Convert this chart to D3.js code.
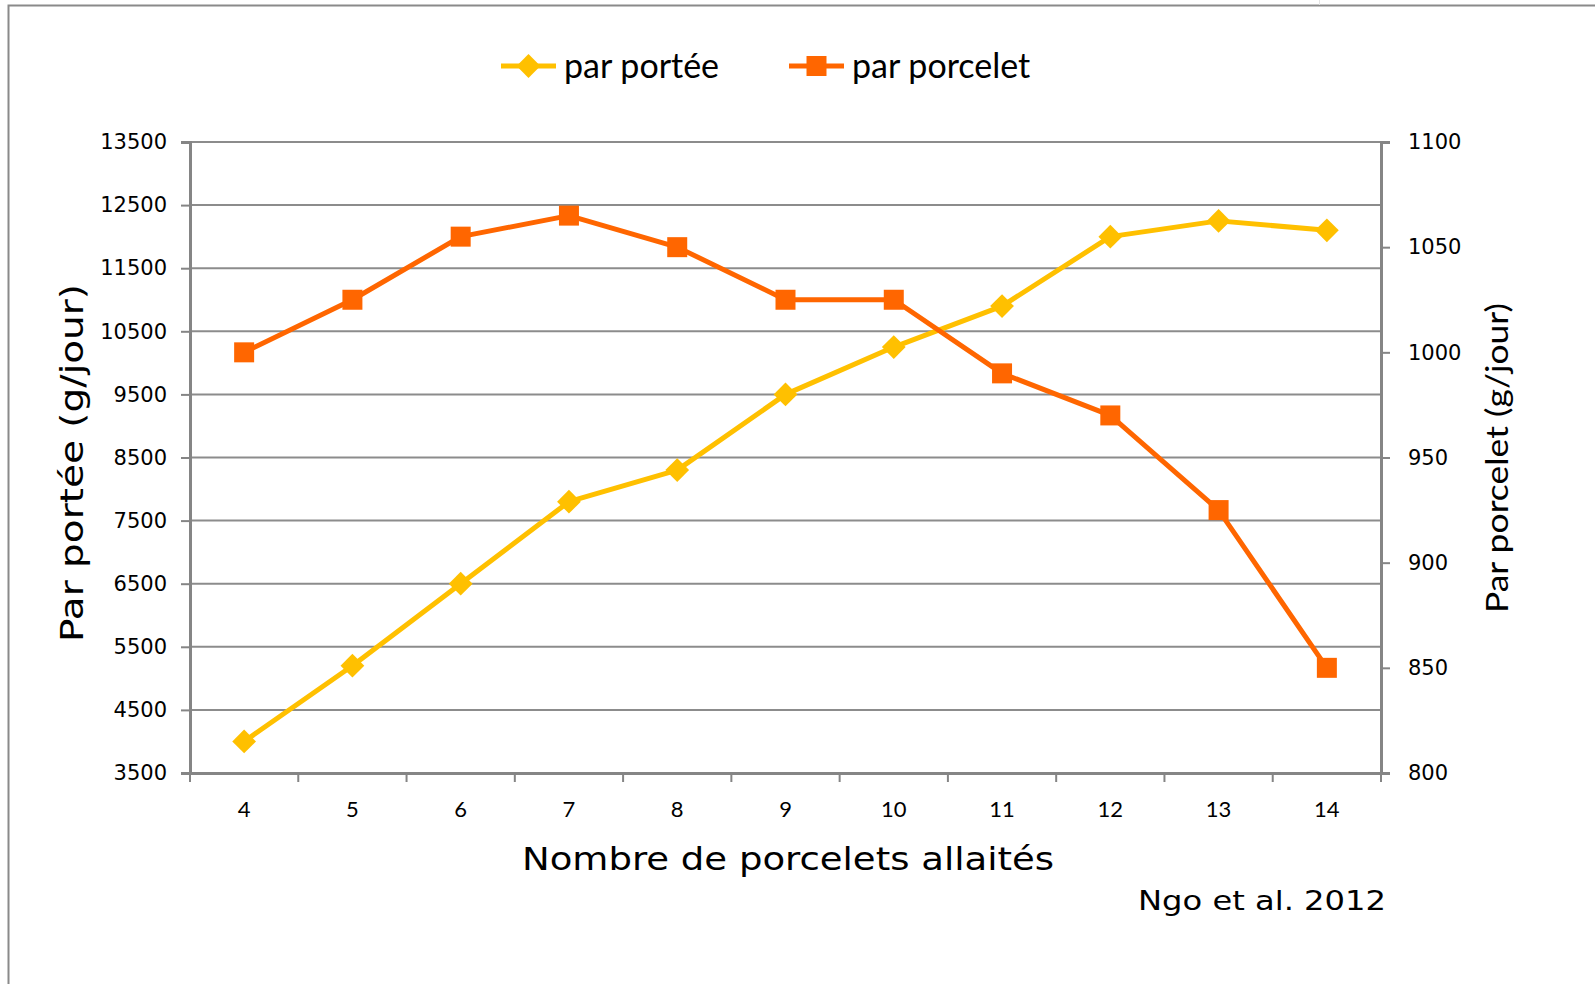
<!DOCTYPE html>
<html>
<head>
<meta charset="utf-8">
<script src="https://cdn.jsdelivr.net/npm/d3@7"></script>
<style>
	body { margin: 0; background: #fff; }
	svg { display: block; }
</style>
</head>
<body>
<svg id="svgContainer" width="1595" height="984"></svg>
<script>
// data
var categories = [4, 5, 6, 7, 8, 9, 10, 11, 12, 13, 14],
	parPortee = [4000, 5200, 6500, 7800, 8300, 9500, 10250, 10900, 12000, 12250, 12100],
	parPorcelet = [1000, 1025, 1055, 1065, 1050, 1025, 1025, 990, 970, 925, 850],
	leftTicks = [3500, 4500, 5500, 6500, 7500, 8500, 9500, 10500, 11500, 12500, 13500],
	rightTicks = [800, 850, 900, 950, 1000, 1050, 1100],
	seriesNames = ["par portée", "par porcelet"];

var W = 1595, H = 984,
	plot = {left: 190, right: 1381, top: 142, bottom: 773},
	yellow = "#FFC000",
	orange = "#FF6600",
	axisColor = "#858585",
	wideFont = "DejaVu Sans",
	narrowFont = "Lato";

var svg = d3.select("#svgContainer");

var x = d3.scaleBand()
	.domain(categories)
	.range([plot.left, plot.right]);

var yLeft = d3.scaleLinear()
	.domain([3500, 13500])
	.range([plot.bottom, plot.top]);

var yRight = d3.scaleLinear()
	.domain([800, 1100])
	.range([plot.bottom, plot.top]);

// outer frame
svg.append("path")
	.attr("d", "M8.5," + H + "V5.5H" + W)
	.attr("fill", "none")
	.attr("stroke", "#8a8a8a")
	.attr("stroke-width", 2);
svg.append("line")
	.attr("x1", 1319.5).attr("x2", 1319.5)
	.attr("y1", 0).attr("y2", 5)
	.attr("stroke", "#e4e4e4");

// horizontal gridlines
svg.append("g")
	.selectAll("line")
	.data(leftTicks)
	.enter().append("line")
	.attr("x1", plot.left)
	.attr("x2", plot.right)
	.attr("y1", function(d){ return yLeft(d); })
	.attr("y2", function(d){ return yLeft(d); })
	.attr("stroke", "#8c8c8c")
	.attr("stroke-width", 2);

// left axis
var leftAxis = svg.append("g")
	.attr("transform", "translate(" + plot.left + ",0)")
	.call(d3.axisLeft(yLeft).tickValues(leftTicks).tickSize(9).tickPadding(14).tickFormat(d3.format("d")));

// right axis
var rightAxis = svg.append("g")
	.attr("transform", "translate(" + plot.right + ",0)")
	.call(d3.axisRight(yRight).tickValues(rightTicks).tickSize(9).tickPadding(18).tickFormat(d3.format("d")));

// bottom axis: ticks on category boundaries
var bottomAxis = svg.append("g")
	.attr("transform", "translate(0," + plot.bottom + ")")
	.call(d3.axisBottom(x).tickSize(0).tickPadding(28));

bottomAxis.selectAll(".boundary")
	.data(categories.concat([null]))
	.enter().append("line")
	.attr("class", "boundary")
	.attr("x1", function(d, i){ return plot.left + i*x.bandwidth(); })
	.attr("x2", function(d, i){ return plot.left + i*x.bandwidth(); })
	.attr("y1", 0)
	.attr("y2", 9);

[leftAxis, rightAxis, bottomAxis].forEach(function(g){
	g.select(".domain").attr("stroke", axisColor).attr("stroke-width", 3);
	g.selectAll("line").attr("stroke", axisColor).attr("stroke-width", 2);
	g.selectAll("text").attr("fill", "#000");
});
leftAxis.selectAll("text").attr("font-family", wideFont).attr("font-size", 21);
rightAxis.selectAll("text").attr("font-family", wideFont).attr("font-size", 21);
bottomAxis.selectAll("text").attr("font-family", narrowFont).attr("font-size", 22);

// series
function drawSeries(values, yScale, color, marker){
	var line = d3.line()
		.x(function(d, i){ return x(categories[i]) + x.bandwidth()/2; })
		.y(function(d){ return yScale(d); });

	svg.append("path")
		.datum(values)
		.attr("d", line)
		.attr("fill", "none")
		.attr("stroke", color)
		.attr("stroke-width", 5)
		.attr("stroke-linejoin", "round");

	svg.append("g")
		.selectAll("path")
		.data(values)
		.enter().append("path")
		.attr("transform", function(d, i){
			return "translate(" + (x(categories[i]) + x.bandwidth()/2) + "," + yScale(d) + ")";
		})
		.attr("d", marker)
		.attr("fill", color);
}

var diamond = d3.symbol().type(d3.symbolDiamond2).size(360)(),
	square = "M-10,-10H10V10H-10Z";

drawSeries(parPortee, yLeft, yellow, diamond);
drawSeries(parPorcelet, yRight, orange, square);

// legend
var legendItems = [
	{name: seriesNames[0], color: yellow, marker: diamond, x: 501},
	{name: seriesNames[1], color: orange, marker: square, x: 789}
];
var legend = svg.append("g")
	.selectAll("g")
	.data(legendItems)
	.enter().append("g")
	.attr("transform", function(d){ return "translate(" + d.x + ",66)"; });
legend.append("line")
	.attr("x1", 0).attr("x2", 55)
	.attr("stroke", function(d){ return d.color; })
	.attr("stroke-width", 5);
legend.append("path")
	.attr("transform", "translate(27.5,0)")
	.attr("d", function(d){ return d.marker; })
	.attr("fill", function(d){ return d.color; });
legend.append("text")
	.attr("x", 63)
	.attr("y", 12)
	.attr("font-family", narrowFont)
	.attr("font-size", 34)
	.text(function(d){ return d.name; });

// axis titles
svg.append("text")
	.attr("transform", "translate(83,463) rotate(-90)")
	.attr("text-anchor", "middle")
	.attr("font-family", wideFont)
	.attr("font-size", 32)
	.attr("textLength", 358)
	.attr("lengthAdjust", "spacingAndGlyphs")
	.text("Par portée (g/jour)");

svg.append("text")
	.attr("transform", "translate(1508,458) rotate(-90)")
	.attr("text-anchor", "middle")
	.attr("font-family", narrowFont)
	.attr("font-size", 31)
	.attr("textLength", 310)
	.attr("lengthAdjust", "spacingAndGlyphs")
	.text("Par porcelet (g/jour)");

svg.append("text")
	.attr("x", 788)
	.attr("y", 870)
	.attr("text-anchor", "middle")
	.attr("font-family", wideFont)
	.attr("font-size", 32)
	.attr("textLength", 532)
	.attr("lengthAdjust", "spacingAndGlyphs")
	.text("Nombre de porcelets allaités");

svg.append("text")
	.attr("x", 1386)
	.attr("y", 910)
	.attr("text-anchor", "end")
	.attr("font-family", wideFont)
	.attr("font-size", 27)
	.attr("textLength", 248)
	.attr("lengthAdjust", "spacingAndGlyphs")
	.text("Ngo et al. 2012");
</script>
</body>
</html>
